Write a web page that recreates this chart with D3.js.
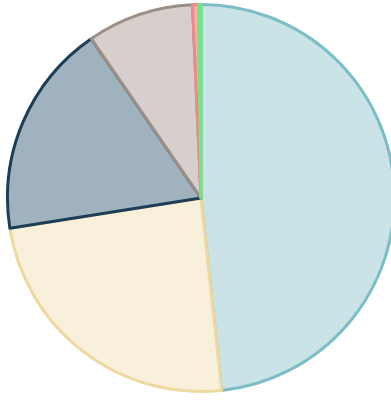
<!DOCTYPE html>
<html>
<head>
<meta charset="utf-8">
<script src="https://cdn.jsdelivr.net/npm/d3@7"></script>
<style>
  html, body { margin: 0; padding: 0; background: #fff; overflow: hidden; }
  svg { display: block; }
</style>
</head>
<body>
<svg id="chart" width="391" height="400"></svg>
<script>
// Slice shares, clockwise from 12 o'clock
const categories = ["A", "B", "C", "D", "E", "F"];
const values = [48.3, 24.2, 17.9, 8.9, 0.5, 0.2];
const fills = ["#c9e3e6", "#f9f0db", "#9fb2bd", "#d6cfcb", "#f6b2ae", "#b6f2bd"];
const strokes = ["#7dbdc5", "#eed9a0", "#1c3e58", "#9b9088", "#f08a86", "#72e683"];

const svg = d3.select("#chart");
const cx = 201, cy = 198, radius = 193.5;

const pie = d3.pie().sort(null).value(d => d.value);
const arc = d3.arc().innerRadius(0).outerRadius(radius);

const data = categories.map((c, i) => ({ name: c, value: values[i], fill: fills[i], stroke: strokes[i] }));

svg.append("g")
  .attr("transform", `translate(${cx},${cy})`)
  .selectAll("path")
  .data(pie(data))
  .join("path")
  .attr("d", arc)
  .attr("fill", d => d.data.fill)
  .attr("stroke", d => d.data.stroke)
  .attr("stroke-width", 3)
  .attr("stroke-linejoin", "round");
</script>
</body>
</html>
